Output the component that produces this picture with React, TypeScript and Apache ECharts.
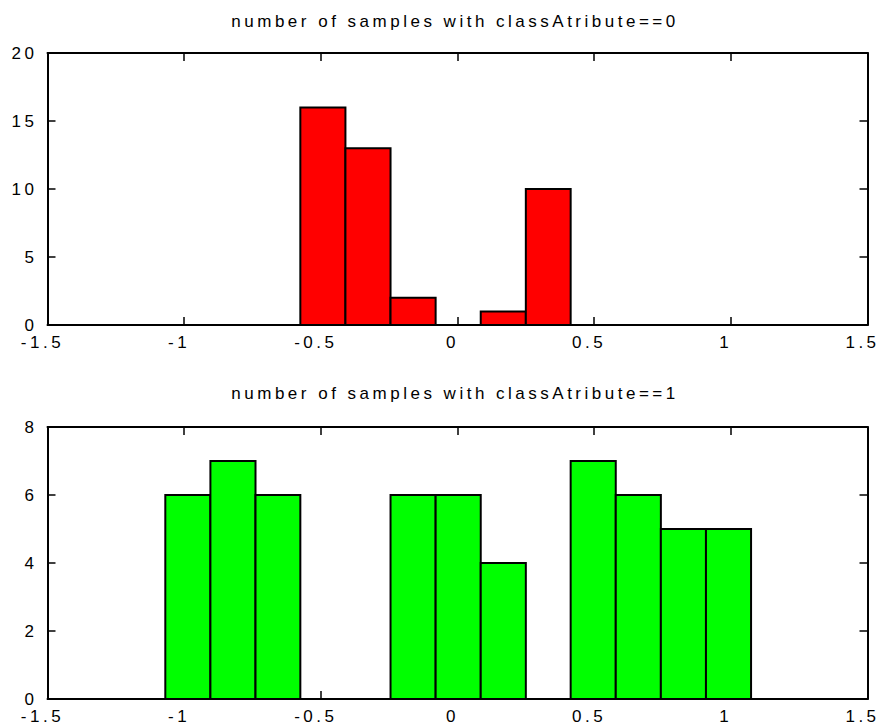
import React, { useEffect, useRef } from "react";
import * as echarts from "echarts";

const binEdges = [-1.069, -0.904, -0.739, -0.575, -0.41, -0.245, -0.08, 0.085, 0.25, 0.414, 0.579, 0.744, 0.909, 1.074];
const counts0 = [0, 0, 0, 16, 13, 2, 0, 1, 10, 0, 0, 0, 0];
const counts1 = [6, 7, 6, 0, 0, 6, 6, 4, 0, 7, 6, 5, 5];
const titles = ["number of samples with classAtribute==0", "number of samples with classAtribute==1"];
const yMax = [20, 8];
const yStep = [5, 2];
const colors = ["#ff0000", "#00ff00"];

const FONT = "'Liberation Sans', Arial, sans-serif";

export default function App() {
  const ref = useRef<HTMLDivElement>(null);
  useEffect(() => {
    if (!ref.current) return;
    const chart = echarts.init(ref.current, null, { renderer: "svg" });
    const grids = [
      { left: 47.5, right: 12.5, top: 53, height: 272 },
      { left: 47.5, right: 12.5, top: 427, height: 272 },
    ];
    const lineStyle = { color: "#000", width: 2 };
    const tick = { show: true, inside: true, length: 8, lineStyle: { color: "#000", width: 1.5 } };
    const labelStyle = { color: "#000", fontSize: 17, fontFamily: FONT };
    const xAxis: any[] = [];
    const yAxis: any[] = [];
    const series: any[] = [];
    [counts0, counts1].forEach((counts, i) => {
      xAxis.push({
        type: "value", gridIndex: i, min: -1.5, max: 1.5, interval: 0.5, position: "bottom",
        axisLine: { show: true, onZero: false, lineStyle }, axisTick: tick, splitLine: { show: false },
        axisLabel: { ...labelStyle, margin: 9, padding: [0, 10, 0, 0] },
      });
      xAxis.push({
        type: "value", gridIndex: i, min: -1.5, max: 1.5, interval: 0.5, position: "top",
        axisLine: { show: true, onZero: false, lineStyle }, axisTick: tick, splitLine: { show: false },
        axisLabel: { show: false },
      });
      yAxis.push({
        type: "value", gridIndex: i, min: 0, max: yMax[i], interval: yStep[i], position: "left",
        axisLine: { show: true, onZero: false, lineStyle }, axisTick: tick, splitLine: { show: false },
        axisLabel: { ...labelStyle, margin: 10, padding: [0, 0, 8, 0] },
      });
      yAxis.push({
        type: "value", gridIndex: i, min: 0, max: yMax[i], interval: yStep[i], position: "right",
        axisLine: { show: true, onZero: false, lineStyle }, axisTick: tick, splitLine: { show: false },
        axisLabel: { show: false },
      });
      const data = counts.map((c, k) => [binEdges[k], binEdges[k + 1], c]);
      series.push({
        type: "custom",
        xAxisIndex: i * 2,
        yAxisIndex: i * 2,
        data,
        encode: { x: [0, 1], y: 2 },
        renderItem: (params: any, api: any) => {
          const p0 = api.coord([api.value(0), api.value(2)]);
          const p1 = api.coord([api.value(1), 0]);
          return {
            type: "rect",
            shape: { x: p0[0], y: p0[1], width: p1[0] - p0[0], height: p1[1] - p0[1] },
            style: { fill: colors[i], stroke: "#000", lineWidth: 2 },
          };
        },
      });
    });
    chart.setOption({
      animation: false,
      backgroundColor: "#fff",
      graphic: [
        {
          type: "text", x: 455, y: 21,
          style: { text: titles[0], textAlign: "center", textVerticalAlign: "middle", fontSize: 17, fontFamily: FONT, fill: "#000" },
        },
        {
          type: "text", x: 455, y: 393,
          style: { text: titles[1], textAlign: "center", textVerticalAlign: "middle", fontSize: 17, fontFamily: FONT, fill: "#000" },
        },
      ],
      grid: grids,
      xAxis,
      yAxis,
      series,
    });
    return () => chart.dispose();
  }, []);
  return (
    <div
      ref={ref}
      style={{ position: "absolute", left: 0, top: 0, width: 880, height: 727, letterSpacing: "3.5px", background: "#fff" }}
    />
  );
}
